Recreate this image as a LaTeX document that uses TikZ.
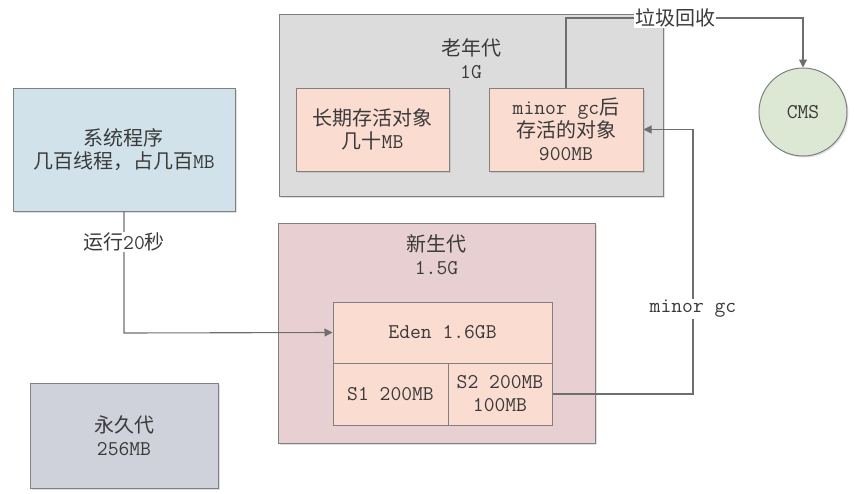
\documentclass[tikz,border=0pt]{standalone}
\usepackage{fontspec}
\setmainfont{Noto Sans CJK SC}
\newfontfamily\latf{Latin Modern Mono}
\newcommand{\lat}[1]{{\latf\fontsize{21}{23}\selectfont #1}}
\usetikzlibrary{arrows.meta,shadows}
\definecolor{oldfill}{HTML}{DCDCDC}
\definecolor{peach}{HTML}{FADCD0}
\definecolor{sysfill}{HTML}{D1E2EA}
\definecolor{newfill}{HTML}{E8D0D2}
\definecolor{permfill}{HTML}{CFD1DB}
\definecolor{cmsfill}{HTML}{DCE8D3}
\definecolor{edge}{HTML}{808080}
\definecolor{ink}{HTML}{3A3A3A}
\definecolor{wire}{HTML}{6E6E6E}
\tikzset{
  box/.style={draw=edge, line width=1pt, rectangle, inner sep=0pt, text=ink,
    align=center, font=\fontsize{20}{23}\selectfont,
    drop shadow={opacity=0.25, shadow xshift=1.5pt, shadow yshift=-1.5pt}},
  plainbox/.style={draw=edge, line width=1pt, rectangle, inner sep=0pt, text=ink,
    align=center, font=\fontsize{20}{23}\selectfont},
  lbl/.style={text=ink, align=center, font=\fontsize{20}{23}\selectfont, inner sep=1pt},
  wlbl/.style={lbl, fill=white},
  conn/.style={draw=wire, line width=1.1pt, -{Triangle[width=8pt,length=8pt]}},
}
\begin{document}
\begin{tikzpicture}[x=1pt,y=-1pt]
\useasboundingbox (0,0) rectangle (854,493);
% old generation
\node[box, fill=oldfill, minimum width=384pt, minimum height=182pt] (old) at (471,105) {};
\node[lbl] (oldlbl) at (471,59) {老年代\\\lat{1G}};
\node[box, fill=peach, minimum width=153pt, minimum height=83pt] (long) at (372.5,129.5)
  {长期存活对象\\几十\lat{MB}};
\node[box, fill=peach, minimum width=154pt, minimum height=83pt] (surv) at (566,129.5)
  {\lat{minor gc}后\\存活的对象\\\lat{900MB}};
% system program
\node[box, fill=sysfill, minimum width=222pt, minimum height=123pt] (sys) at (124,149.5)
  {系统程序\\几百线程，占几百\lat{MB}};
% new generation
\node[box, fill=newfill, minimum width=317pt, minimum height=220pt] (new) at (436.5,333) {};
\node[lbl] (newlbl) at (436.5,255) {新生代\\\lat{1.5G}};
\node[plainbox, fill=peach, minimum width=219pt, minimum height=61pt] (eden) at (442.5,332.5)
  {\lat{Eden 1.6GB}};
\node[plainbox, fill=peach, minimum width=115pt, minimum height=62pt] (s1) at (390.5,394)
  {\lat{S1 200MB}};
\node[plainbox, fill=peach, minimum width=104pt, minimum height=62pt] (s2) at (500,394)
  {\lat{S2 200MB}\\\lat{100MB}};
% permanent generation
\node[box, fill=permfill, minimum width=188pt, minimum height=105pt] (perm) at (124,435.5)
  {永久代\\\lat{256MB}};
% CMS
\node[box, circle, fill=cmsfill, minimum size=88pt] (cms) at (803,112) {\lat{CMS}};
% connectors
\coordinate (c1) at (124,333);
\draw[conn] (sys.south) -- (c1) -- (eden.west);
\node[wlbl] (runlbl) at (124,242) {运行\lat{20}秒};
\coordinate (c2) at (693,394);
\coordinate (c3) at (693,129.5);
\draw[conn] (s2.east) -- (c2) -- (c3) -- (surv.east);
\node[wlbl] (gclbl) at (693,309) {\lat{minor gc}};
\coordinate (c4) at (566,18);
\coordinate (c5) at (803,18);
\draw[conn] (surv.north) -- (c4) -- (c5) -- (cms.north);
\node[wlbl] (gclabel) at (675,18) {垃圾回收};
\end{tikzpicture}
\end{document}
